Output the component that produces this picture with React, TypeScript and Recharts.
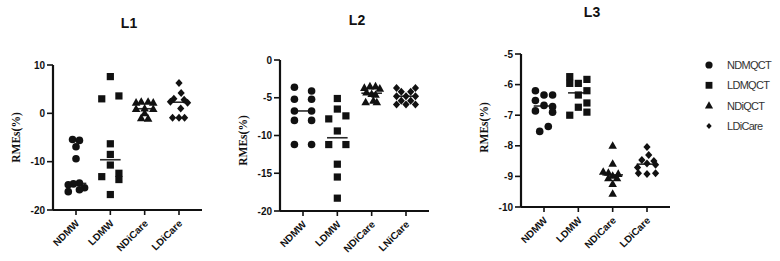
import React from 'react';
import { ScatterChart, Scatter, XAxis, YAxis, ReferenceLine } from 'recharts';

// legend names, one per marker shape
const GROUP_NAMES = ['NDMQCT', 'LDMQCT', 'NDiQCT', 'LDiCare'];

const CATEGORIES_L1 = ['NDMW', 'LDMW', 'NDiCare', 'LDiCare'];
const CATEGORIES_L2 = ['NDMW', 'LDMW', 'NDiCare', 'LNiCare'];
const CATEGORIES_L3 = ['NDMW', 'LDMW', 'NDiCare', 'LDiCare'];

const TICKS_L1 = [-20, -10, 0, 10];
const TICKS_L2 = [-20, -15, -10, -5, 0];
const TICKS_L3 = [-10, -9, -8, -7, -6, -5];

// RMEs (%) per group
const L1_NDMW = [-5.4, -5.6, -6.9, -9.4, -14.4, -14.6, -14.8, -15.4, -15.8, -16.2];
const L1_LDMW = [7.6, 3.6, 3.0, -6.3, -8.5, -10.7, -12.4, -13.1, -13.7, -16.8];
const L1_NDICARE = [2.2, 2.4, 2.4, 2.2, 0.9, 1.0, 0.9, 0.0, -1.0, -1.1];
const L1_LDICARE = [6.3, 4.2, 3.0, 2.8, 2.4, 2.2, 1.0, -0.9, -0.9, -0.9];

const L2_NDMW = [-3.6, -4.1, -5.2, -5.2, -6.75, -6.75, -8.0, -8.0, -11.2, -11.2];
const L2_LDMW = [-5.1, -6.5, -7.4, -7.8, -9.4, -11.2, -11.2, -13.8, -15.5, -18.3];
const L2_NDICARE = [-3.5, -3.5, -3.7, -3.8, -4.3, -4.5, -4.6, -5.4, -5.6, -5.6];
const L2_LNICARE = [-3.7, -3.7, -4.2, -4.2, -4.8, -4.8, -4.8, -5.4, -5.4, -5.9, -5.9, -5.9];

const L3_NDMW = [-6.2, -6.34, -6.34, -6.52, -6.68, -6.72, -6.86, -6.9, -7.37, -7.53];
const L3_LDMW = [-5.74, -5.83, -5.96, -5.96, -6.2, -6.34, -6.6, -6.74, -6.9, -7.0];
const L3_NDICARE = [-8.0, -8.59, -8.85, -8.88, -8.92, -8.98, -9.06, -9.06, -9.25, -9.57];
const L3_LDICARE = [-8.04, -8.3, -8.46, -8.5, -8.58, -8.62, -8.71, -8.9, -8.92, -8.9];

// sideways scatter of each point, in quarter-category steps
const L1_NDMW_JIT = [-0.4, 0.4, 0, 0, 0.4, -0.3, -0.9, 1.0, 0.4, -0.9];
const L1_LDMW_JIT = [0, 1, -1, 0, 0, 0, 1, -1, 1, 0];
const L1_NDICARE_JIT = [-1, -0.4, 0.4, 1, -1, 0, 1, 0, -0.4, 0.4];
const L1_LDICARE_JIT = [0, 0.25, -0.6, 0.6, -1.0, 1.0, 0.2, -0.75, 0, 0.65];

const L2_NDMW_JIT = [-1, 1, -1, 1, -1, 1, -1, 1, -1, 1];
const L2_LDMW_JIT = [0, 0, 1, -1, 0, -1, 1, 0, 0, 0];
const L2_NDICARE_JIT = [-0.2, 0.45, -0.85, 0.95, -0.6, 0, 0.45, 0.2, -0.7, 0.6];
const L2_LNICARE_JIT = [-1.1, 1.1, -0.55, 0.55, -1.1, 0, 1.1, -0.55, 0.55, -1.1, 0, 1.1];

const L3_NDMW_JIT = [-1, 0, 1, -1, 0, 1, -1, 1, 0.5, -0.5];
const L3_LDMW_JIT = [-1, 1, -1, 0, 1, 0, 1, 0, 1, -1];
const L3_NDICARE_JIT = [0, 0, -1.1, -0.5, 0.65, 0, -0.5, 0.5, 0, 0];
const L3_LDICARE_JIT = [0, 0.2, -0.6, 0.8, 0, 1.0, -1.1, -1, 0, 1];

const FONT = 'Arial, "Liberation Sans", sans-serif';
const INK = '#111';
const STEP = 0.25;

type Kind = 'circle' | 'square' | 'triangle' | 'diamond';
const KINDS: Kind[] = ['circle', 'square', 'triangle', 'diamond'];

function Marker({ kind, cx, cy, s = 1 }: { kind: Kind; cx: number; cy: number; s?: number }) {
  if (kind === 'circle') return <circle cx={cx} cy={cy} r={3.8 * s} fill={INK} />;
  if (kind === 'square')
    return <rect x={cx - 3.6 * s} y={cy - 3.6 * s} width={7.2 * s} height={7.2 * s} fill={INK} />;
  if (kind === 'triangle')
    return (
      <polygon
        points={`${cx},${cy - 4.6 * s} ${cx + 4.3 * s},${cy + 3 * s} ${cx - 4.3 * s},${cy + 3 * s}`}
        fill={INK}
      />
    );
  return (
    <polygon
      points={`${cx},${cy - 4 * s} ${cx + 3.6 * s},${cy} ${cx},${cy + 4 * s} ${cx - 3.6 * s},${cy}`}
      fill={INK}
    />
  );
}

function median(values: number[]) {
  const s = [...values].sort((a, b) => a - b);
  const m = Math.floor(s.length / 2);
  return s.length % 2 ? s[m] : (s[m - 1] + s[m]) / 2;
}

interface PanelProps {
  categories: string[];
  groups: number[][];
  jitters: number[][];
  yDomain: [number, number];
  yTicks: number[];
  left: number;
  width: number;
  plotTop: number;
  plotBottom: number;
  axisX: number;
  plotRight: number;
  labelShift: number;
}

function Panel(p: PanelProps) {
  const yAxisWidth = p.axisX - p.left;
  const renderXTick = (props: any) => {
    const { x, y, payload } = props;
    return (
      <g transform={`translate(${x + 4},${y + 7}) rotate(-45)`}>
        <text textAnchor="end" fill={INK} fontSize={10} fontWeight={700} fontFamily={FONT}>
          {p.categories[payload.value - 1]}
        </text>
      </g>
    );
  };
  const renderYLabel = (props: any) => {
    const vb = props.viewBox;
    const cx = vb.x + vb.width - 33;
    const cy = vb.y + vb.height / 2 + p.labelShift;
    return (
      <text
        x={cx}
        y={cy}
        transform={`rotate(-90,${cx},${cy})`}
        textAnchor="middle"
        fill={INK}
        fontSize={11.5}
        fontWeight={700}
        fontFamily='"Liberation Serif", "Times New Roman", serif'
      >
        RMEs(%)
      </text>
    );
  };

  return (
    <div style={{ position: 'absolute', left: p.left, top: 0 }}>
      <ScatterChart
        width={p.width}
        height={261}
        margin={{ top: p.plotTop, right: p.left + p.width - p.plotRight, bottom: 0, left: 0 }}
      >
        <XAxis
          type="number"
          dataKey="x"
          domain={[0.33, 4.67]}
          ticks={[1, 2, 3, 4]}
          interval={0}
          allowDataOverflow
          height={261 - p.plotBottom}
          axisLine={{ stroke: INK, strokeWidth: 2.2 }}
          tickLine={{ stroke: INK, strokeWidth: 1.6 }}
          tickSize={5}
          tick={renderXTick}
        />
        <YAxis
          type="number"
          dataKey="y"
          domain={p.yDomain}
          ticks={p.yTicks}
          interval={0}
          allowDataOverflow
          width={yAxisWidth}
          axisLine={{ stroke: INK, strokeWidth: 2.2 }}
          tickLine={{ stroke: INK, strokeWidth: 1.6 }}
          tickSize={6}
          tickMargin={2}
          tick={{ fill: INK, fontSize: 10, fontWeight: 700, fontFamily: FONT }}
          label={renderYLabel}
        />
        {p.groups.map((values, i) => (
          <Scatter
            key={GROUP_NAMES[i]}
            name={GROUP_NAMES[i]}
            data={values.map((v, j) => ({ x: i + 1 + p.jitters[i][j] * STEP, y: v }))}
            shape={(sp: any) => <Marker kind={KINDS[i]} cx={sp.cx} cy={sp.cy} />}
            isAnimationActive={false}
          />
        ))}
        {p.groups.map((values, i) => {
          const m = median(values);
          return (
            <ReferenceLine
              key={'med' + i}
              segment={[
                { x: i + 1 - 0.3, y: m },
                { x: i + 1 + 0.3, y: m },
              ]}
              stroke="#2a2a2a"
              strokeWidth={1.6}
              ifOverflow="visible"
            />
          );
        })}
      </ScatterChart>
    </div>
  );
}

export default function App() {
  return (
    <div
      style={{
        position: 'absolute',
        left: 0,
        top: 0,
        width: 780,
        height: 261,
        background: '#fff',
        fontFamily: FONT,
        overflow: 'hidden',
      }}
    >
      <Panel
        categories={CATEGORIES_L1}
        groups={[L1_NDMW, L1_LDMW, L1_NDICARE, L1_LDICARE]}
        jitters={[L1_NDMW_JIT, L1_LDMW_JIT, L1_NDICARE_JIT, L1_LDICARE_JIT]}
        yDomain={[-20, 10]}
        yTicks={TICKS_L1}
        left={0}
        width={230}
        plotTop={65}
        plotBottom={210}
        axisX={53}
        plotRight={202}
        labelShift={0}
      />
      <Panel
        categories={CATEGORIES_L2}
        groups={[L2_NDMW, L2_LDMW, L2_NDICARE, L2_LNICARE]}
        jitters={[L2_NDMW_JIT, L2_LDMW_JIT, L2_NDICARE_JIT, L2_LNICARE_JIT]}
        yDomain={[-20, 0]}
        yTicks={TICKS_L2}
        left={230}
        width={230}
        plotTop={60}
        plotBottom={211}
        axisX={280}
        plotRight={429}
        labelShift={5}
      />
      <Panel
        categories={CATEGORIES_L3}
        groups={[L3_NDMW, L3_LDMW, L3_NDICARE, L3_LDICARE]}
        jitters={[L3_NDMW_JIT, L3_LDMW_JIT, L3_NDICARE_JIT, L3_LDICARE_JIT]}
        yDomain={[-10, -5]}
        yTicks={TICKS_L3}
        left={470}
        width={220}
        plotTop={54}
        plotBottom={207}
        axisX={521}
        plotRight={670}
        labelShift={-3}
      />
      <svg
        width={780}
        height={261}
        style={{ position: 'absolute', left: 0, top: 0, pointerEvents: 'none' }}
      >
        <text x={129} y={28} textAnchor="middle" fontSize={14} fontWeight={700} fill={INK} fontFamily={FONT}>
          L1
        </text>
        <text x={357} y={25} textAnchor="middle" fontSize={14} fontWeight={700} fill={INK} fontFamily={FONT}>
          L2
        </text>
        <text x={592} y={17} textAnchor="middle" fontSize={14} fontWeight={700} fill={INK} fontFamily={FONT}>
          L3
        </text>
        {GROUP_NAMES.map((name, i) => {
          const cy = 65 + i * 20.3;
          return (
            <g key={name}>
              <Marker kind={KINDS[i]} cx={709} cy={cy} s={i === 3 ? 0.75 : 0.95} />
              <text x={727} y={cy + 4} fontSize={11} fill="#333" fontFamily={FONT} letterSpacing={-0.7}>
                {name}
              </text>
            </g>
          );
        })}
      </svg>
    </div>
  );
}
